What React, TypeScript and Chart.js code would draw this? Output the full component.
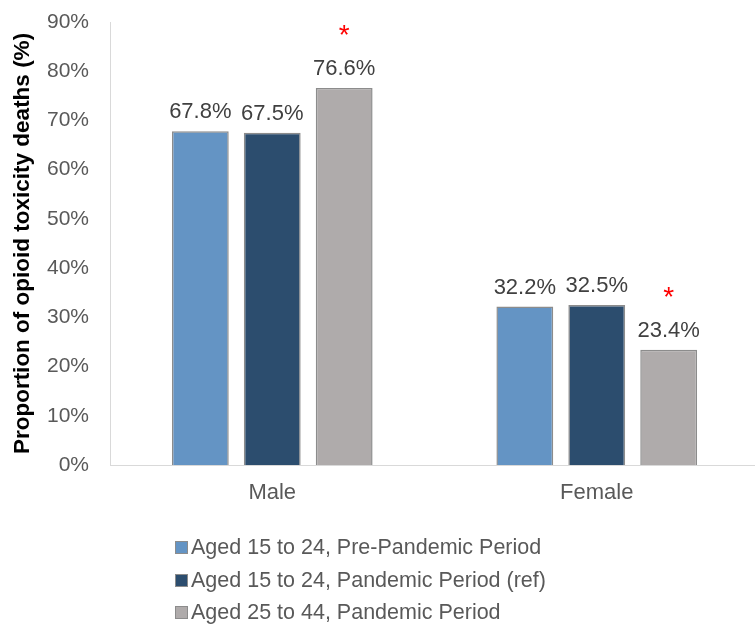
import React, { useEffect, useRef } from "react";
import { Chart, registerables } from "chart.js";

Chart.register(...registerables);

const categories = ["Male", "Female"];
const seriesNames = [
  "Aged 15 to 24, Pre-Pandemic Period",
  "Aged 15 to 24, Pandemic Period (ref)",
  "Aged 25 to 44, Pandemic Period",
];
const prePandemic1524 = [67.8, 32.2];
const pandemic1524 = [67.5, 32.5];
const pandemic2544 = [76.6, 23.4];
const significant = [
  [false, false],
  [false, false],
  [true, true],
];
const colors = ["#6494C4", "#2C4D6E", "#AFABAB"];
const yTicksMax = 90;
const yTickStep = 10;
const yTitle = "Proportion of opioid toxicity deaths (%)";

const FONT = "'Liberation Sans', Arial, sans-serif";

const labelPlugin = {
  id: "valueLabels",
  afterDatasetsDraw(chart: any) {
    const ctx = chart.ctx;
    ctx.save();
    chart.data.datasets.forEach((ds: any, di: number) => {
      const meta = chart.getDatasetMeta(di);
      meta.data.forEach((bar: any, i: number) => {
        const v = ds.data[i];
        ctx.font = `22px ${FONT}`;
        ctx.fillStyle = "#404040";
        ctx.textAlign = "center";
        ctx.textBaseline = "alphabetic";
        ctx.fillText(v.toFixed(1) + "%", bar.x, bar.y - 13);
        if (significant[di][i]) {
          ctx.font = `28px ${FONT}`;
          ctx.fillStyle = "#FF0000";
          ctx.fillText("*", bar.x, bar.y - 44);
        }
      });
    });
    ctx.restore();
  },
};

const legendPlugin = {
  id: "stackLegend",
  afterDraw(chart: any) {
    const ctx = chart.ctx;
    ctx.save();
    const rows = [547, 579.5, 612];
    chart.data.datasets.forEach((ds: any, di: number) => {
      const y = Math.round(rows[di]);
      ctx.fillStyle = ds.backgroundColor;
      ctx.fillRect(175.5, y - 6, 12, 12);
      ctx.strokeStyle = "#8C8C8C";
      ctx.lineWidth = 1;
      ctx.strokeRect(175.5, y - 6 + 0.5, 12, 12);
      ctx.font = `21.5px ${FONT}`;
      ctx.fillStyle = "#595959";
      ctx.textAlign = "left";
      ctx.textBaseline = "middle";
      ctx.fillText(ds.label, 191, y + 1);
    });
    ctx.restore();
  },
};

export default function App() {
  const ref = useRef<HTMLCanvasElement>(null);
  useEffect(() => {
    const values = [prePandemic1524, pandemic1524, pandemic2544];
    const chart = new Chart(ref.current!, {
      type: "bar",
      data: {
        labels: categories,
        datasets: values.map((d, i) => ({
          label: seriesNames[i],
          data: d,
          backgroundColor: colors[i],
          borderColor: "#8C8C8C",
          borderWidth: 1.5,
          categoryPercentage: 0.665,
          barPercentage: 0.79,
        })),
      },
      options: {
        responsive: false,
        animation: false,
        devicePixelRatio: 1,
        layout: { padding: { top: 22, right: 6, left: 0, bottom: 0 } },
        plugins: {
          legend: { display: false },
          tooltip: { enabled: false },
        },
        scales: {
          x: {
            grid: { display: false, drawTicks: false },
            border: { display: true, color: "#D9D9D9", width: 1 },
            ticks: {
              color: "#595959",
              font: { family: FONT, size: 22 },
              padding: 15,
            },
            afterFit(scale: any) {
              scale.height = 161;
              scale.paddingLeft = 0;
              scale.paddingRight = 0;
            },
          },
          y: {
            min: 0,
            max: yTicksMax,
            grid: { display: false, drawTicks: false },
            border: { display: true, color: "#D9D9D9", width: 1 },
            ticks: {
              stepSize: yTickStep,
              color: "#595959",
              font: { family: FONT, size: 21 },
              padding: 21,
              callback: (v: any) => v + "%",
            },
            title: {
              display: true,
              text: yTitle,
              color: "#000000",
              font: { family: FONT, size: 22.5, weight: "bold" },
              padding: { top: 9, bottom: 0 },
            },
            afterFit(scale: any) {
              scale.width = 110;
              scale.paddingTop = 0;
              scale.paddingBottom = 0;
            },
          },
        },
      },
      plugins: [labelPlugin, legendPlugin],
    });
    return () => chart.destroy();
  }, []);
  return (
    <div
      style={{
        position: "fixed",
        left: 0,
        top: 0,
        width: 755,
        height: 626,
        overflow: "hidden",
        background: "#fff",
      }}
    >
      <canvas ref={ref} width={765} height={626} style={{ display: "block" }} />
    </div>
  );
}
